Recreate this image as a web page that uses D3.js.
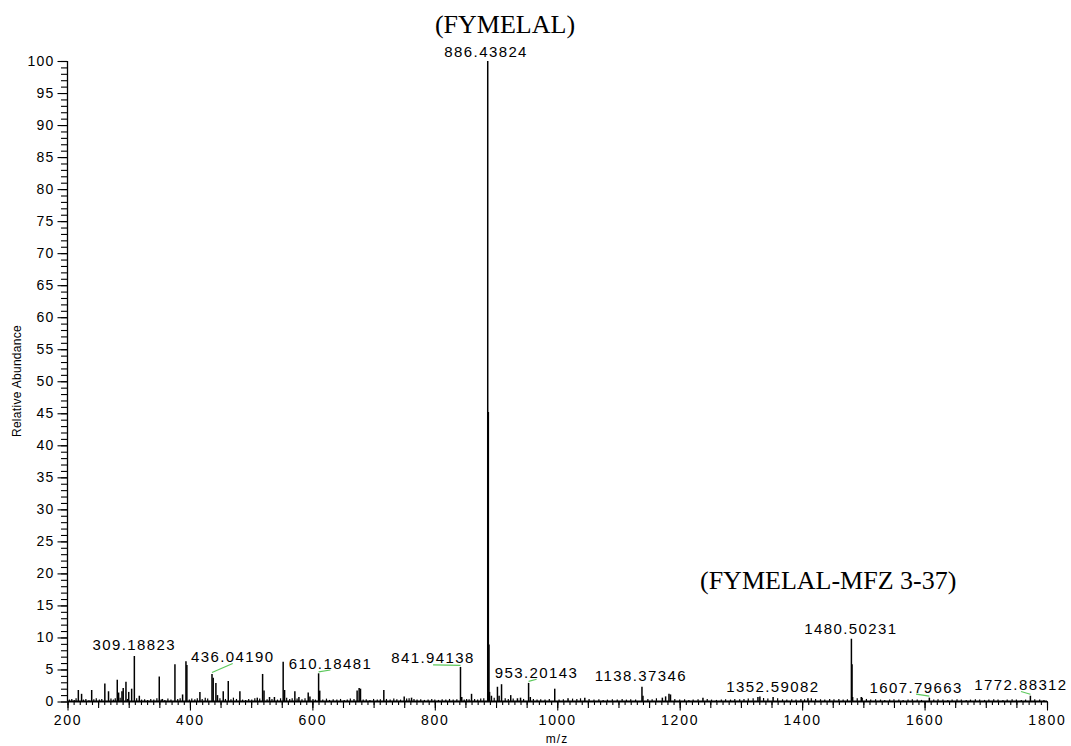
<!DOCTYPE html>
<html><head><meta charset="utf-8">
<script src="https://cdn.jsdelivr.net/npm/d3@7"></script>
<style>body{margin:0;background:#fff}svg{display:block}</style>
</head><body><svg id="c" width="1071" height="746"></svg>
<script>
// ---------- data ----------
const peakMz  = [217.7,223,239.5,261,267,281.3,283.5,289,291,295.5,300,304.8,309.19,317.3,349.9,355,375.5,388,393.5,395,416.3,436.04,438,442.4,445,454.4,462.6,481.6,510,518.7,521,530,538,552.3,554.6,571.4,578,593.2,596,610.18,612,673.1,676.4,678.6,716.7,750,762,841.94,844,860,886.44,887.44,888.44,889.4,892.5,902.3,905,909,924,935,940,953.2,956,995.9,1017.6,1045,1138.37,1140,1171.7,1177,1182.5,1185,1238,1327.8,1331,1352.59,1409.5,1480.5,1481.5,1482.5,1496.6,1498,1607.8,1772.88];
const peakInt = [1.8,1.2,1.8,2.8,1.6,3.4,1.4,1.6,2.1,3.1,1.5,2.0,7.1,0.9,3.9,0.4,5.8,1.1,6.3,5.7,1.5,4.3,3.7,2.9,1.0,1.6,3.2,1.6,0.6,4.3,1.7,0.7,0.7,6.2,1.8,1.6,0.7,1.4,0.8,4.4,1.7,1.7,2.1,2.0,1.8,0.8,0.6,5.4,0.7,1.2,100,45.2,8.9,1.5,0.9,2.3,0.9,2.7,1.0,0.5,0.6,2.9,0.7,2.0,0.5,0.6,2.3,0.9,0.6,0.8,1.2,1.1,0.6,0.7,0.8,0.7,0.5,9.8,5.8,0.7,0.7,0.6,0.6,0.9];
const noise = [[203,.3],[207,.4],[211,.25],[214,.5],[226,.3],[230,.4],[235,.2],[243,.35],[247,.5],[252,.3],[256,.4],[271,.45],[275,.3],[278,.5],[286,.6],[298,.4],[313,.5],[321,.3],[326,.35],[331,.25],[336,.4],[341,.3],[346,.5],[353,.3],[359,.25],[364,.45],[369,.3],[380,.4],[384,.5],[399,.3],[403,.45],[408,.35],[412,.5],[420,.4],[425,.6],[429,.45],[449,.5],[458,.4],[467,.35],[471,.6],[476,.4],[486,.3],[491,.25],[496,.4],[501,.3],[506,.5],[514,.45],[526,.35],[534,.4],[543,.3],[548,.5],[558,.6],[563,.4],[567,.5],[575,.45],[583,.35],[588,.5],[601,.4],[605,.3],[617,.3],[623,.45],[628,.25],[634,.35],[640,.3],[646,.4],[652,.25],[657,.3],[662,.45],[668,.4],[683,.3],[688,.35],[694,.25],[700,.4],[706,.3],[711,.35],[721,.4],[727,.3],[733,.45],[738,.35],[744,.3],[754,.45],[758,.5],[766,.4],[771,.3],[777,.35],[783,.25],[789,.3],[795,.4],[800,.3],[806,.25],[812,.35],[818,.3],[824,.4],[830,.3],[836,.35],[848,.3],[852,.4],[856,.35],[865,.4],[870,.3],[875,.45],[880,.5],[897,.6],[915,.5],[920,.4],[928,.45],[945,.4],[961,.4],[967,.3],[973,.35],[980,.3],[987,.4],[1003,.3],[1010,.35],[1025,.45],[1032,.4],[1038,.5],[1052,.4],[1060,.3],[1068,.35],[1075,.25],[1082,.3],[1090,.35],[1098,.3],[1106,.4],[1113,.3],[1120,.35],[1128,.3],[1148,.4],[1155,.35],[1162,.5],[1192,.4],[1200,.3],[1208,.35],[1215,.25],[1222,.3],[1230,.35],[1245,.4],[1252,.3],[1260,.25],[1268,.3],[1275,.35],[1283,.3],[1290,.4],[1298,.35],[1305,.4],[1312,.45],[1320,.5],[1337,.55],[1344,.45],[1360,.5],[1368,.35],[1375,.3],[1383,.35],[1390,.3],[1398,.4],[1404,.35],[1415,.5],[1422,.4],[1430,.35],[1437,.3],[1445,.4],[1452,.35],[1460,.4],[1467,.3],[1474,.35],[1490,.5],[1505,.4],[1512,.3],[1520,.35],[1528,.3],[1535,.25],[1543,.3],[1550,.35],[1558,.3],[1565,.25],[1573,.3],[1580,.35],[1588,.3],[1595,.25],[1615,.3],[1622,.35],[1630,.3],[1638,.25],[1645,.3],[1653,.35],[1660,.3],[1668,.25],[1675,.3],[1683,.35],[1690,.3],[1698,.25],[1705,.3],[1713,.35],[1720,.3],[1728,.25],[1735,.3],[1743,.35],[1750,.3],[1758,.25],[1765,.3],[1780,.35],[1788,.3],[1795,.25]];
const labelTexts = ["309.18823","436.04190","610.18481","841.94138","886.43824","953.20143","1138.37346","1352.59082","1480.50231","1607.79663","1772.88312"];
const labelMz    = [309.19,436.04,610.18,841.94,886.44,953.2,1138.37,1352.59,1480.5,1607.8,1772.88];
const labelInt   = [7.1,4.3,4.4,5.4,100,2.9,2.3,0.7,9.8,0.6,0.9];
const xTicks = [200,400,600,800,1000,1200,1400,1600,1800];
const yTicks = d3.range(0,101,5);
const titleMain = "(FYMELAL)";
const titleSub = "(FYMELAL-MFZ 3-37)";
const xLabel = "m/z";
const yLabel = "Relative Abundance";

// ---------- layout (pixels) ----------
// label centre offset from peak top (dx, dy to baseline), and leader flag
const labelLayout = [[0,-5.6,0],[20.7,-11.9,1],[11.8,-4.8,1],[-27.4,-3.6,1],[-1.6,-4.5,0],[8,-5.2,1],[-1.1,-5.8,0],[-0.2,-5.3,0],[-0.5,-5,0],[-13.3,-5,1],[-9.4,-5.7,1]];

const svg = d3.select("#c");
const x = d3.scaleLinear().domain([200,1800]).range([67.5,1047]);
const y = d3.scaleLinear().domain([0,100]).range([701.5,61]);
const FONT = "'Liberation Sans', Arial, sans-serif";

// noise
svg.append("g").selectAll("line").data(noise).join("line")
  .attr("x1",d=>x(d[0])).attr("x2",d=>x(d[0]))
  .attr("y1",y(0)).attr("y2",d=>y(d[1]))
  .attr("stroke","#000").attr("stroke-width",1.2);

// peaks
const peaks = peakMz.map((m,i)=>({m, v:peakInt[i]}));
svg.append("g").selectAll("line").data(peaks).join("line")
  .attr("x1",d=>x(d.m)).attr("x2",d=>x(d.m))
  .attr("y1",y(0)).attr("y2",d=>y(d.v))
  .attr("stroke","#000").attr("stroke-width",1.5);

// y axis
function styleAxis(g){ g.selectAll("line").attr("stroke","#000").attr("stroke-width",1.1); g.select(".domain").remove(); }
const gy = svg.append("g").attr("transform","translate(67.5,0)");
gy.append("g").call(d3.axisLeft(y).tickValues(d3.range(0,101,1)).tickSize(6.5).tickFormat("")).call(styleAxis);
gy.append("g").call(d3.axisLeft(y).tickValues(yTicks).tickSize(10).tickPadding(3).tickFormat(d3.format("d"))).call(styleAxis)
  .selectAll("text").attr("font-family",FONT).attr("font-size",14).attr("letter-spacing","1.2px").attr("fill","#000");
gy.append("line").attr("x1",0).attr("x2",0).attr("y1",y(0)).attr("y2",y(100)).attr("stroke","#000").attr("stroke-width",1.3);

// x axis
const gx = svg.append("g").attr("transform",`translate(0,${y(0)})`);
gx.append("g").call(d3.axisBottom(x).tickValues(d3.range(200,1801,10)).tickSize(3.5).tickFormat("")).call(styleAxis);
gx.append("g").call(d3.axisBottom(x).tickValues(d3.range(200,1801,50)).tickSize(6.5).tickFormat("")).call(styleAxis);
gx.append("g").call(d3.axisBottom(x).tickValues(xTicks).tickSize(9).tickPadding(5).tickFormat(d3.format("d"))).call(styleAxis)
  .selectAll("text").attr("font-family",FONT).attr("font-size",14).attr("letter-spacing","1.8px").attr("fill","#000");
gx.append("line").attr("x1",x(200)).attr("x2",x(1800)).attr("y1",0).attr("y2",0).attr("stroke","#000").attr("stroke-width",2.2);

// axis titles
svg.append("text").attr("x",557).attr("y",743).attr("text-anchor","middle")
  .attr("font-family",FONT).attr("font-size",12).attr("letter-spacing","1px").text(xLabel);
svg.append("text").attr("transform","translate(21,381) rotate(-90)").attr("text-anchor","middle")
  .attr("font-family",FONT).attr("font-size",12).attr("letter-spacing","0.3px").text(yLabel);

// peak labels + leaders
labelTexts.forEach((t,i)=>{
  const px = x(labelMz[i]), py = y(labelInt[i]);
  const [dx,dy,lead] = labelLayout[i];
  const lx = px+dx, ly = py+dy;
  if(lead){
    svg.append("line").attr("x1",px).attr("y1",py-1.5).attr("x2",lx).attr("y2",ly+1.5)
      .attr("stroke","#5cc85c").attr("stroke-width",1.2);
  }
  svg.append("text").attr("x",lx).attr("y",ly).attr("text-anchor","middle")
    .attr("font-family",FONT).attr("font-size",15).attr("letter-spacing","1.4px").text(t);
});

// annotations
svg.append("text").attr("x",505).attr("y",33).attr("text-anchor","middle")
  .attr("font-family","'Liberation Serif','Times New Roman',serif").attr("font-size",26).text(titleMain);
svg.append("text").attr("x",700).attr("y",589).attr("text-anchor","start")
  .attr("font-family","'Liberation Serif','Times New Roman',serif").attr("font-size",26).text(titleSub);
</script></body></html>
